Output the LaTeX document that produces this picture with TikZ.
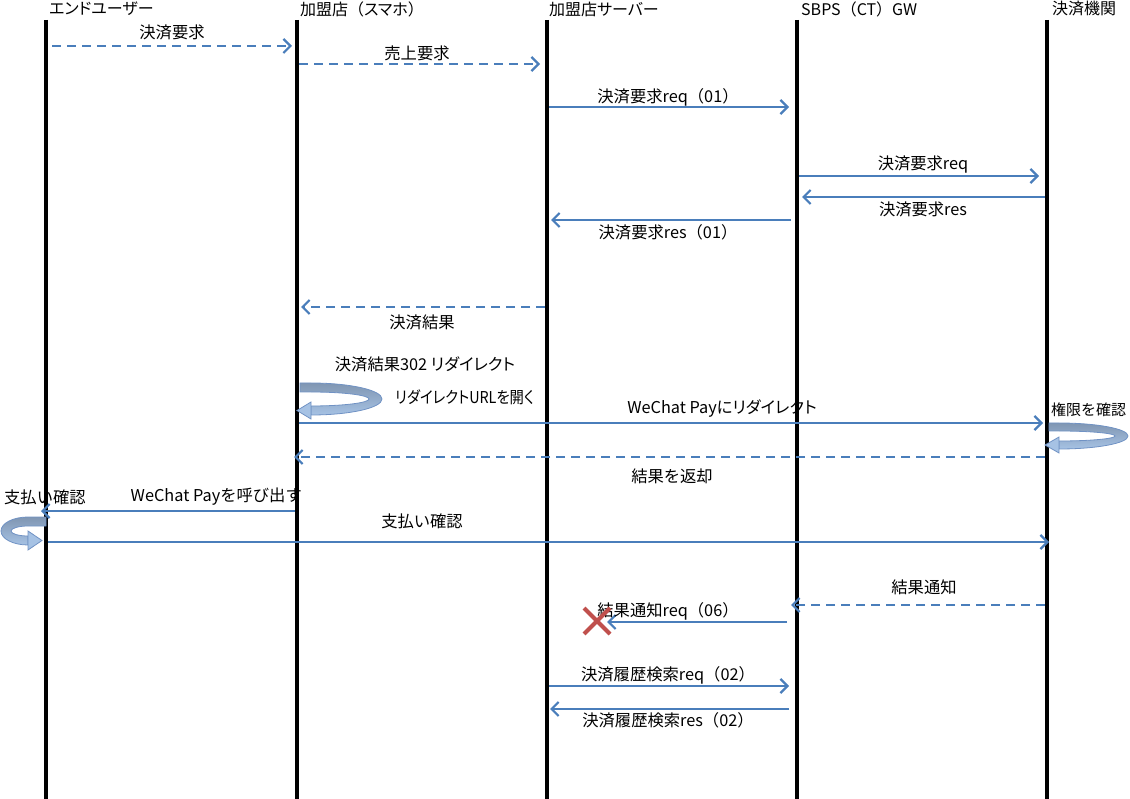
\documentclass[tikz,border=0pt]{standalone}
\usepackage{fontspec}
\setmainfont{Noto Sans CJK JP}
\newfontfamily\pfont{Noto Sans CJK JP}[RawFeature=+palt]
\newcommand{\kp}[1]{{\pfont #1}}
\usetikzlibrary{arrows.meta,calc}
\definecolor{arrowblue}{RGB}{74,126,187}
\definecolor{curltop}{RGB}{128,150,178}
\definecolor{curlbot}{RGB}{166,194,228}
\definecolor{curledge}{RGB}{112,146,196}
\definecolor{xred}{RGB}{192,80,77}
\tikzset{
  lifeline/.style={line width=4pt, black},
  head/.style={anchor=west, inner sep=0pt, font=\fontsize{16}{18}\selectfont},
  lbl/.style={inner sep=0pt, font=\fontsize{16.3}{19}\selectfont},
  msg/.style={line width=2.2pt, arrowblue, -{Straight Barb[length=7pt,width=14pt]}},
  dmsg/.style={msg, dash pattern=on 9pt off 6pt},
  curlband/.style={top color=curltop, bottom color=curlbot, draw=curledge, line width=0.8pt},
  curlhead/.style={fill=curlbot, draw=curledge, line width=0.8pt},
}
\begin{document}
\begin{tikzpicture}[x=1pt, y=-1pt]
\useasboundingbox (0,0) rectangle (1130,799);
% lifelines
\foreach \n/\x in {1/46,2/297,3/547,4/797,5/1047}{
  \coordinate (t\n) at (\x,20);
  \coordinate (b\n) at (\x,799);
  \draw[lifeline] (t\n) -- (b\n);
}
% headers
\node[head] (h1) at (49,9) {\kp{エンドユーザー}};
\node[head] (h2) at (300,9) {加盟店（\kp{スマホ}）};
\node[head] (h3) at (549,9) {加盟店\kp{サーバー}};
\node[head] (h4) at (801,9) {SBPS（CT）GW};
\node[head] (h5) at (1052,9) {決済機関};

% message endpoints
\coordinate (m1s) at (52,46);   \coordinate (m1e) at (292,46);
\coordinate (m2s) at (299,64);  \coordinate (m2e) at (540,64);
\coordinate (m3s) at (549,107); \coordinate (m3e) at (789,107);
\coordinate (m4s) at (799,176); \coordinate (m4e) at (1039,176);
\coordinate (m5s) at (1045,197);\coordinate (m5e) at (802,197);
\coordinate (m6s) at (791,220); \coordinate (m6e) at (551,220);
\coordinate (m7s) at (545,307); \coordinate (m7e) at (301,307);
\coordinate (m9s) at (299,423); \coordinate (m9e) at (1043,423);
\coordinate (m11s) at (1045,457);\coordinate (m11e) at (294,457);
\coordinate (m12s) at (295,511);\coordinate (m12e) at (41,511);
\coordinate (m14s) at (48,542); \coordinate (m14e) at (1049,542);
\coordinate (m15s) at (1045,605);\coordinate (m15e) at (791,605);
\coordinate (m16s) at (787,622);\coordinate (m16e) at (607,622);
\coordinate (m17s) at (549,686);\coordinate (m17e) at (789,686);
\coordinate (m18s) at (789,709);\coordinate (m18e) at (550,709);

\draw[dmsg] (m1s) -- (m1e);
\draw[dmsg] (m2s) -- (m2e);
\draw[msg] (m3s) -- (m3e);
\draw[msg] (m4s) -- (m4e);
\draw[msg] (m5s) -- (m5e);
\draw[msg] (m6s) -- (m6e);
\draw[dmsg] (m7s) -- (m7e);
\draw[msg] (m9s) -- (m9e);
\draw[dmsg] (m11s) -- (m11e);
\draw[msg] (m12s) -- (m12e);
\draw[msg] (m14s) -- (m14e);
\draw[dmsg] (m15s) -- (m15e);
\draw[msg] (m16s) -- (m16e);
\draw[msg] (m17s) -- (m17e);
\draw[msg] (m18s) -- (m18e);

% labels
\node[lbl] (l1) at (172,32) {決済要求};
\node[lbl] (l2) at (417,53) {売上要求};
\node[lbl] (l3) at (668,97) {決済要求req（01）};
\node[lbl] (l4) at (923,165) {決済要求req};
\node[lbl] (l5) at (923,209) {決済要求res};
\node[lbl] (l6) at (668,232) {決済要求res（01）};
\node[lbl] (l7) at (422,322) {決済結果};
\node[lbl] (l8) at (425,364) {決済結果302 \kp{リダイレクト}};
\node[lbl, anchor=west] (l8b) at (395,397) {\scalebox{0.88}[1]{\kp{リダイレクトURLを開く}}};
\node[lbl] (l9) at (722,409) {WeChat Pay\kp{にリダイレクト}};
\node[lbl, anchor=west, font=\fontsize{15}{18}\selectfont] (l10) at (1051,410) {権限を確認};
\node[lbl] (l11) at (672,476) {結果を返却};
\node[lbl, anchor=west] (l12) at (4,497) {支払い確認};
\node[lbl, anchor=east] (l12b) at (302,497) {WeChat Payを呼び出す};
\node[lbl] (l14) at (422,521) {支払い確認};
\node[lbl] (l15) at (924,587) {結果通知};
\node[lbl] (l16) at (668,611) {結果通知req（06）};
\node[lbl] (l17) at (668,675) {決済履歴検索req（02）};
\node[lbl] (l18) at (668,720) {決済履歴検索res（02）};

% curled arrows
% A: at merchant phone
\path[curlband] (300,383) -- (311,383) arc[start angle=-90, end angle=90, x radius=71, y radius=16]
  -- (311,406) arc[start angle=90, end angle=-90, x radius=58, y radius=7] -- (300,392) -- cycle;
\path[curlhead] (297,410.5) -- (311,402) -- (311,419) -- cycle;
% B: at payment institution
\path[curlband] (1049,423) -- (1059,423) arc[start angle=-90, end angle=90, x radius=69, y radius=13]
  -- (1059,441) arc[start angle=90, end angle=-90, x radius=56, y radius=5] -- (1049,431) -- cycle;
\path[curlhead] (1045,445) -- (1059,437) -- (1059,453) -- cycle;
% C: at end user
\path[curlband] (46,517) -- (28,517) arc[start angle=-90, end angle=-270, x radius=27, y radius=14]
  -- (28,536) arc[start angle=90, end angle=270, x radius=17, y radius=5] -- (46,526) -- cycle;
\path[curlhead] (42,540.5) -- (28,531) -- (28,550) -- cycle;

% failure mark
\coordinate (xc) at (597,621);
\coordinate (xa) at ($(xc)+(-13,-13)$);
\coordinate (xb) at ($(xc)+(13,13)$);
\coordinate (xd) at ($(xc)+(-13,13)$);
\coordinate (xe) at ($(xc)+(13,-13)$);
\draw[xred, line width=4pt] (xa) -- (xb);
\draw[xred, line width=4pt] (xd) -- (xe);
\end{tikzpicture}
\end{document}
